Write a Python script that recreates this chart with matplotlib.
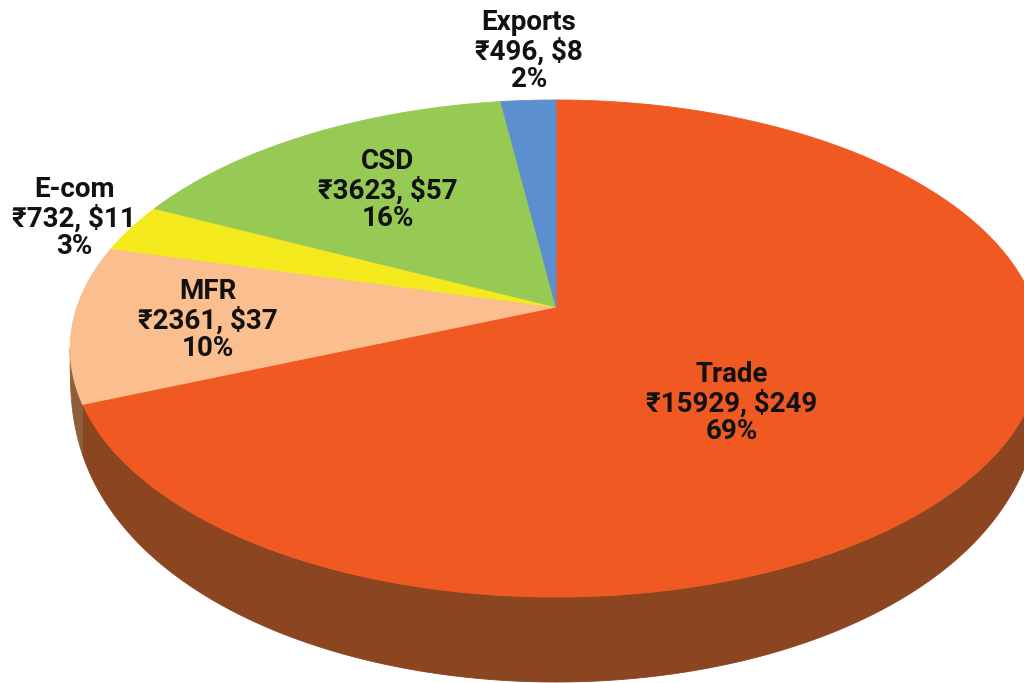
import numpy as np
import matplotlib.pyplot as plt
from matplotlib.patches import Polygon

# data, in drawing order (clockwise from 12 o'clock)
segments = ["Trade", "MFR", "E-com", "CSD", "Exports"]
rupees = [15929, 2361, 732, 3623, 496]
dollars = [249, 37, 11, 57, 8]
colors = ["#F05A22", "#FBBE8E", "#F3E91C", "#97C955", "#5B8FCF"]
side_colors = ["#8B4520", "#8F5F3C", "#8E8812", "#5A7A33", "#36567C"]

# label anchors (pixel coords)
label_pos = [(732, 403), (208, 320), (74, 218), (388, 190), (529, 51)]

# pie geometry in pixels: apex, half width, half height, perspective, rim depth
CX, CY = 556, 307
A, B = 479, 241.6
K = 0.167
DEPTH = 85


def rim(theta, drop=0.0):
    u, v = np.cos(theta), np.sin(theta)
    w = 1 + K * v
    return CX + A * u / w, CY - B * v / w + drop


def side_depth(theta):
    t = np.clip((-np.sin(theta) - K) / (1 - K), 0, 1)
    return DEPTH * t ** 0.38


fig = plt.figure(figsize=(10.24, 6.83), dpi=100)
ax = fig.add_axes([0, 0, 1, 1])
ax.set_xlim(0, 1024)
ax.set_ylim(683, 0)
ax.axis("off")

total = sum(rupees)
fracs = np.array(rupees) / total
bounds = np.pi / 2 - 2 * np.pi * np.concatenate([[0], np.cumsum(fracs)])

# side walls (visible front part only)
front_lo = -np.pi + np.arcsin(K)
front_hi = -np.arcsin(K)
for i in range(len(segments)):
    t0, t1 = bounds[i + 1], bounds[i]
    lo, hi = max(t0, front_lo), min(t1, front_hi)
    if hi <= lo:
        continue
    th = np.linspace(lo, hi, 200)
    xt, yt = rim(th)
    yb = yt + side_depth(th)
    pts = np.column_stack([np.concatenate([xt, xt[::-1]]),
                           np.concatenate([yt, yb[::-1]])])
    ax.add_patch(Polygon(pts, closed=True, facecolor=side_colors[i],
                         edgecolor=side_colors[i], lw=0.6))

# top faces
for i in range(len(segments)):
    th = np.linspace(bounds[i], bounds[i + 1], 300)
    xs, ys = rim(th)
    pts = np.column_stack([np.concatenate([[CX], xs]),
                           np.concatenate([[CY], ys])])
    ax.add_patch(Polygon(pts, closed=True, facecolor=colors[i],
                         edgecolor=colors[i], lw=0.6))

# labels
for i, name in enumerate(segments):
    pct = round(100 * rupees[i] / total)
    text = f"{name}\n\u20b9{rupees[i]}, ${dollars[i]}\n{pct}%"
    ax.text(label_pos[i][0], label_pos[i][1], text, ha="center", va="center",
            multialignment="center", fontsize=20, fontweight="bold",
            family=["Roboto", "DejaVu Sans"], linespacing=1.04, color="#111111")

fig.savefig("out.png", dpi=100)
